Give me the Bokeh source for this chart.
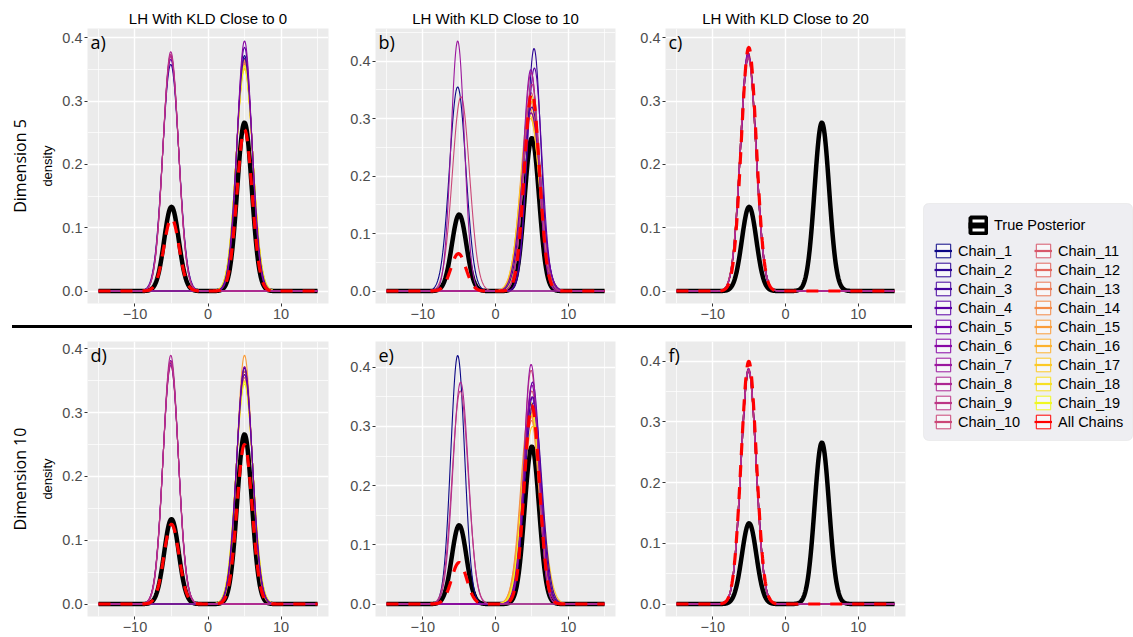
import numpy as np
from bokeh.plotting import figure
from bokeh.layouts import row, column
from bokeh.models import (Range1d, FixedTicker, Label, Legend, LegendItem, BoxAnnotation,
                          Spacer, Div, ColumnDataSource, PrintfTickFormatter, Title)
from bokeh.palettes import Plasma256
from bokeh.embed import file_html
from bokeh.resources import INLINE

# ---------------- data ----------------
chains = [f"Chain_{i}" for i in range(1, 20)]
panel_tags = ["a)", "b)", "c)", "d)", "e)", "f)"]
col_titles = ["LH With KLD Close to 0", "LH With KLD Close to 10", "LH With KLD Close to 20"]
row_titles = ["Dimension 5", "Dimension 10"]
x_ticks = [-10, 0, 10]
x_tick_labels = ["\u221210", "0", "10"]
y_ticks = [0.0, 0.1, 0.2, 0.3, 0.4]

# mode location and peak density of every chain (Chain_1 .. Chain_19), per panel
centers_a = [5.0, -5.1, 5.0, 5.0, -5.1, 5.0, -5.1, -5.1, -5.1, -5.1, 5.0, 5.0, 5.0, 5.0, 5.0, 5.0, 5.0, 5.0, 5.0]
peaks_a = [0.372, 0.358, 0.368, 0.385, 0.366, 0.395, 0.372, 0.378, 0.374, 0.370, 0.362, 0.358, 0.366, 0.360, 0.364, 0.355, 0.352, 0.350, 0.356]

centers_b = [-5.2, 5.3, 5.0, 5.35, 4.9, 4.85, -5.2, 4.9, 5.0, -4.75, 4.9, 5.0, 4.8, 4.9, 4.7, 4.8, 4.75, 5.0, 4.9]
peaks_b = [0.355, 0.422, 0.320, 0.388, 0.310, 0.385, 0.435, 0.380, 0.360, 0.338, 0.345, 0.330, 0.330, 0.310, 0.320, 0.300, 0.305, 0.330, 0.340]

centers_c = [-5.15, -5.1, -5.15, -5.1, -5.15, -5.1, -5.15, -5.1, -5.15, -5.1, -5.15, -5.1, -5.15, -5.1, -5.15, -5.1, -5.15, -5.1, -5.15]
peaks_c = [0.372, 0.370, 0.375, 0.368, 0.378, 0.372, 0.374, 0.370, 0.368, 0.376, 0.372, 0.370, 0.374, 0.370, 0.372, 0.376, 0.370, 0.372, 0.374]

centers_d = [5.0, 5.0, -5.1, 5.0, 5.0, -5.1, -5.1, -5.1, -5.1, -5.1, 5.0, 5.0, 5.0, 5.0, 5.0, 5.0, 5.0, 5.0, 5.0]
peaks_d = [0.365, 0.370, 0.378, 0.360, 0.372, 0.382, 0.375, 0.390, 0.380, 0.374, 0.360, 0.355, 0.365, 0.372, 0.390, 0.350, 0.360, 0.345, 0.348]

centers_e = [-5.2, 5.1, 5.2, 5.1, 5.0, 5.0, 4.9, -4.8, -4.85, 4.9, 5.0, 4.8, 5.0, 4.7, 4.8, 4.9, 5.1, 5.0, 4.9]
peaks_e = [0.420, 0.350, 0.340, 0.375, 0.350, 0.370, 0.405, 0.375, 0.360, 0.395, 0.360, 0.340, 0.310, 0.330, 0.320, 0.330, 0.300, 0.320, 0.340]

centers_f = [-5.1, -5.05, -5.1, -5.05, -5.1, -5.05, -5.1, -5.05, -5.1, -5.05, -5.1, -5.05, -5.1, -5.05, -5.1, -5.05, -5.1, -5.05, -5.1]
peaks_f = [0.386, 0.384, 0.388, 0.385, 0.387, 0.384, 0.386, 0.388, 0.385, 0.386, 0.384, 0.387, 0.385, 0.386, 0.388, 0.384, 0.386, 0.385, 0.387]

# pooled "All Chains" density: (mode, peak) of left and right component
allchains_a = [(-5.0, 0.115), (5.0, 0.255)]
allchains_b = [(-5.1, 0.065), (5.0, 0.345)]
allchains_c = [(-5.05, 0.385), (5.0, 0.0)]
allchains_d = [(-5.0, 0.125), (5.0, 0.250)]
allchains_e = [(-5.0, 0.070), (5.0, 0.335)]
allchains_f = [(-5.05, 0.400), (5.0, 0.0)]

# true posterior: two-component normal mixture
true_centers = [-5.0, 5.0]
true_weights = [1 / 3, 2 / 3]
true_sd = 1.0

# upper data limit of each panel's y scale
y_max = [0.395, 0.435, 0.395, 0.392, 0.4225, 0.412]

panels = [
    (centers_a, peaks_a, allchains_a), (centers_b, peaks_b, allchains_b), (centers_c, peaks_c, allchains_c),
    (centers_d, peaks_d, allchains_d), (centers_e, peaks_e, allchains_e), (centers_f, peaks_f, allchains_f),
]

# ---------------- helpers ----------------
xs = np.linspace(-15, 15, 512)
SQ2PI = np.sqrt(2 * np.pi)


def unimodal(c, peak, sd=None):
    if sd is None:
        sd = 1.0 / (peak * SQ2PI) if peak > 0 else 1.0
    return peak * np.exp(-0.5 * ((xs - c) / sd) ** 2)


true_density = sum(w / (true_sd * SQ2PI) * np.exp(-0.5 * ((xs - c) / true_sd) ** 2)
                   for c, w in zip(true_centers, true_weights))

colors = [Plasma256[int(round(i * 255 / 18))] for i in range(19)]
draw_order = sorted(range(19), key=lambda i: chains[i])  # factor (string) order

FONT = "Liberation Sans"


def make_panel(k, width, mbl, mbr, height, mbt, mbb, title=None, ylabel=None, rowlabel=None):
    centers, peaks, pooled = panels[k]
    ym = y_max[k]
    p = figure(width=width, height=height, x_range=Range1d(-16.5, 16.5),
               y_range=Range1d(-0.05 * ym, 1.05 * ym), output_backend="svg",
               toolbar_location=None, min_border_left=mbl, min_border_right=mbr,
               min_border_top=mbt, min_border_bottom=mbb, background_fill_color="#EBEBEB",
               border_fill_color="white", outline_line_color=None, title=title)
    if title:
        p.title.align = "center"
        p.title.text_font = FONT
        p.title.text_font_size = "15px"
        p.title.text_font_style = "normal"
        p.title.text_color = "black"
        p.title.standoff = 4
    p.xaxis.ticker = FixedTicker(ticks=x_ticks, minor_ticks=[-15, -5, 5, 15])
    p.xaxis.major_label_overrides = dict(zip(x_ticks, x_tick_labels))
    p.yaxis.ticker = FixedTicker(ticks=y_ticks, minor_ticks=[0.05, 0.15, 0.25, 0.35, 0.45])
    p.yaxis.formatter = PrintfTickFormatter(format="%.1f")
    for ax in (p.xaxis, p.yaxis):
        ax.axis_line_color = None
        ax.major_tick_line_color = "#333333"
        ax.major_tick_out = 3
        ax.major_tick_in = 0
        ax.minor_tick_line_color = None
        ax.major_label_text_font = FONT
        ax.major_label_text_font_size = "14.5px"
        ax.major_label_text_color = "#4D4D4D"
        ax.major_label_standoff = 1
    p.grid.grid_line_color = "white"
    p.grid.grid_line_width = 1.4
    p.grid.minor_grid_line_color = "white"
    p.grid.minor_grid_line_width = 0.7
    if ylabel:
        p.yaxis.axis_label = ylabel
        p.yaxis.axis_label_text_font = FONT
        p.yaxis.axis_label_text_font_size = "13px"
        p.yaxis.axis_label_text_font_style = "normal"
        p.yaxis.axis_label_text_color = "black"
        p.yaxis.axis_label_standoff = 4
    if rowlabel:
        p.add_layout(Title(text=rowlabel, align="center", text_font="Open Sans",
                           text_font_size="16px", text_font_style="normal",
                           text_color="black", standoff=13), "left")

    # true posterior (thick black)
    p.line(xs, true_density, line_color="black", line_width=4.5, line_join="round")
    # individual chains
    for i in draw_order:
        p.line(xs, unimodal(centers[i], peaks[i]), line_color=colors[i], line_width=1.1)
    # pooled chains (red dashed)
    pooled_y = sum(unimodal(c, pk, 1.04) for c, pk in pooled)
    p.line(xs, pooled_y, line_color="#FF0000", line_width=3.2, line_dash="12 10")

    p.add_layout(Label(x=-16.5, y=1.05 * ym, x_offset=3, y_offset=-1, text=panel_tags[k],
                       text_baseline="top", text_align="left", text_font="Open Sans",
                       text_font_size="18px", text_color="black"))
    return p


# top row (height 325): frames at y 28..303
pa = make_panel(0, 347, 85, 19, 325, 28, 22, title=col_titles[0], ylabel="density", rowlabel=row_titles[0])
pb = make_panel(1, 290, 25, 22, 325, 28, 22, title=col_titles[1])
pc = make_panel(2, 278, 25, 10, 325, 28, 22, title=col_titles[2])
# bottom row (height 309): frames at y 341..616
pd = make_panel(3, 347, 85, 19, 309, 13, 21, ylabel="density", rowlabel=row_titles[1])
pe = make_panel(4, 290, 25, 22, 309, 13, 21)
pf = make_panel(5, 278, 25, 10, 309, 13, 21)

# black separating rule between the two rows
rule = Div(text="", width=900, height=3, margin=0,
           styles={"background-color": "#000000", "width": "900px", "height": "3px"})
sep = row(Spacer(width=12, height=3, margin=0), rule, Spacer(width=3, height=3, margin=0), spacing=0)

# ---------------- legend ----------------
lf = figure(width=218, height=637, x_range=Range1d(0, 218), y_range=Range1d(637, 0),
            output_backend="svg", toolbar_location=None, min_border=0,
            outline_line_color=None, x_axis_location=None, y_axis_location=None)
lf.grid.visible = False
lf.add_layout(BoxAnnotation(left=8, right=217, top=203, bottom=440, fill_color="#EEEEF2",
                            fill_alpha=1, line_color="#D3D3D3", line_width=1, border_radius=5))

# one off-screen dummy point so that legend keys have something to draw from
dummy_box = ColumnDataSource(dict(l=[-60], r=[-50], t=[-60], b=[-50]))
dummy_line = ColumnDataSource(dict(x=[-60, -50], y=[-60, -60]))


def key(color, lw=2.2, box_lw=1, fill="#F7F7F9"):
    q = lf.quad(left="l", right="r", top="t", bottom="b", source=dummy_box,
                fill_color=fill, line_color=color, line_width=box_lw)
    ln = lf.line("x", "y", source=dummy_line, line_color=color, line_width=lw)
    return [q, ln]


def make_legend(items, loc, gw, gh):
    leg = Legend(items=items, location=loc, padding=0, margin=0, spacing=2,
                 glyph_width=gw, glyph_height=gh, label_height=gh, label_standoff=6,
                 background_fill_alpha=0, border_line_color=None,
                 label_text_font=FONT, label_text_font_size="14.5px", label_text_color="black")
    lf.add_layout(leg)
    return leg


true_item = [LegendItem(label="True Posterior", renderers=key("black", lw=6, box_lw=4, fill="white"))]
chain_items = [LegendItem(label=chains[i], renderers=key(colors[i])) for i in range(19)]
chain_items.append(LegendItem(label="All Chains", renderers=key("#FF0000")))

make_legend(true_item, (53, 402), 20, 20)
make_legend(chain_items[:10], (19, 207), 18, 17)
make_legend(chain_items[10:], (119, 207), 18, 17)

layout = row(column(row(pa, pb, pc, spacing=0), sep, row(pd, pe, pf, spacing=0), spacing=0),
             lf, spacing=0)

open("out.html", "w").write(file_html(layout, INLINE))
